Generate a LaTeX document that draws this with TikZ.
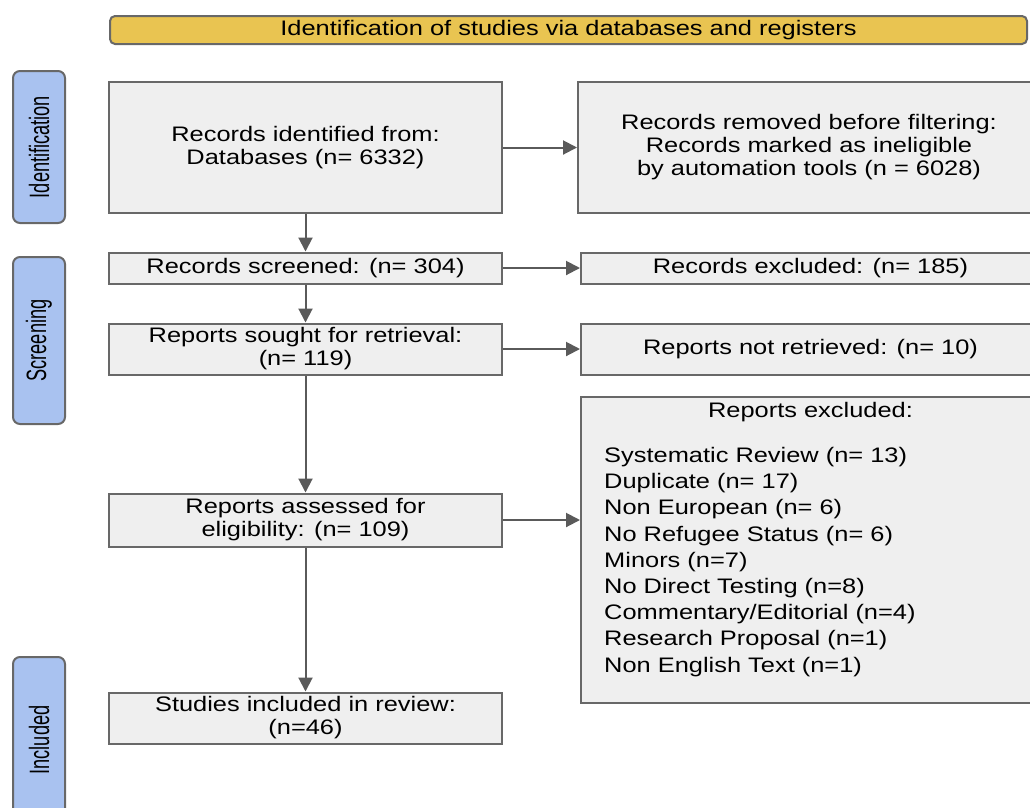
\documentclass[tikz,border=0pt]{standalone}
\usepackage{fontspec}
\setmainfont{Liberation Sans}
\newfontfamily\boxfont[FakeStretch=1.21]{Liberation Sans}
\newfontfamily\sidefont[FakeStretch=0.65]{Liberation Sans}
\usetikzlibrary{arrows.meta}
\definecolor{boxgray}{HTML}{EFEFEF}
\definecolor{edgegray}{HTML}{686868}
\definecolor{arrowgray}{HTML}{5A5A5A}
\definecolor{sideblue}{HTML}{A9C2F0}
\definecolor{bannergold}{HTML}{E9C451}
\tikzset{
  box_/.style    = {shape=rectangle, draw=edgegray, fill=boxgray, line width=2pt,
                    align=center, inner sep=0pt, minimum width=393pt,
                    font=\boxfont\fontsize{21}{23}\selectfont},
  side_/.style   = {shape=rectangle, rounded corners=7pt, draw=edgegray, fill=sideblue,
                    line width=2pt, rotate=90, minimum height=52pt, inner sep=0pt,
                    font=\sidefont\fontsize{28}{30}\selectfont},
  banner_/.style = {shape=rectangle, rounded corners=5pt, draw=edgegray, fill=bannergold,
                    line width=2pt, minimum width=917pt, minimum height=28pt, inner sep=0pt,
                    font=\boxfont\fontsize{21}{23}\selectfont}
}

\begin{document}
\begin{tikzpicture}
  [
    x = 1pt, y = 1pt,
    arrow_/.style = {draw=arrowgray, line width=2pt,
                     -{Triangle[length=14pt,width=14pt]}}
  ]
  \clip (0,0) rectangle (1030,-807);
  \fill[white] (0,0) rectangle (1030,-807);

  % banner and phase labels
  \node [banner_] (top) at (568.5,-30) {Identification of studies via databases and registers};
  \node [side_, minimum width=152pt] (ident_lab) at (39,-147) {Identification};
  \node [side_, minimum width=167pt] (screen_lab) at (39,-340.5) {Screening};
  \node [side_, minimum width=166pt] (incl_lab) at (39,-740) {Included};

  % left column
  \node [box_, minimum height=131pt] (ident) at (305.5,-147.5)
    {Records identified from:\\Databases (n= 6332)};
  \node [box_, minimum height=31pt] (screened) at (305.5,-268)
    {Records screened: (n= 304)};
  \node [box_, minimum height=51pt] (sought) at (305.5,-349)
    {Reports sought for retrieval:\\(n= 119)};
  \node [box_, minimum height=53pt] (assessed) at (305.5,-520)
    {Reports assessed for\\eligibility: (n= 109)};
  \node [box_, minimum height=51pt] (included) at (305.5,-718)
    {Studies included in review:\\(n=46)};

  % right column
  \node [box_, minimum width=462pt, minimum height=131pt] (removed) at (809,-147.5)
    {Records removed before filtering:\\Records marked as ineligible\\by automation tools (n = 6028)};
  \node [box_, minimum width=459pt, minimum height=31pt] (excluded) at (810.5,-268)
    {Records excluded: (n= 185)};
  \node [box_, minimum width=459pt, minimum height=51pt] (notret) at (810.5,-349)
    {Reports not retrieved: (n= 10)};
  \node [box_, minimum width=459pt, minimum height=306pt] (repexcl) at (810.5,-550) {};
  \node [font=\boxfont\fontsize{21}{23}\selectfont, inner sep=0pt] (repexcl_title)
    at (810.5,-412) {Reports excluded:};
  \node [font=\boxfont\fontsize{21}{26.2}\selectfont, align=left, anchor=north west,
         inner sep=0pt] (repexcl_list) at (604,-447)
    {Systematic Review (n= 13)\\Duplicate (n= 17)\\Non European (n= 6)\\
     No Refugee Status (n= 6)\\Minors (n=7)\\No Direct Testing (n=8)\\
     Commentary/Editorial (n=4)\\Research Proposal (n=1)\\Non English Text (n=1)};

  % connectors
  \draw [arrow_] (ident) -- (screened);
  \draw [arrow_] (screened) -- (sought);
  \draw [arrow_] (sought) -- (assessed);
  \draw [arrow_] (assessed) -- (included);
  \draw [arrow_] (ident) -- (removed);
  \draw [arrow_] (screened) -- (excluded);
  \draw [arrow_] (sought) -- (notret);
  \draw [arrow_] (assessed) -- (assessed -| repexcl.west);
\end{tikzpicture}
\end{document}
